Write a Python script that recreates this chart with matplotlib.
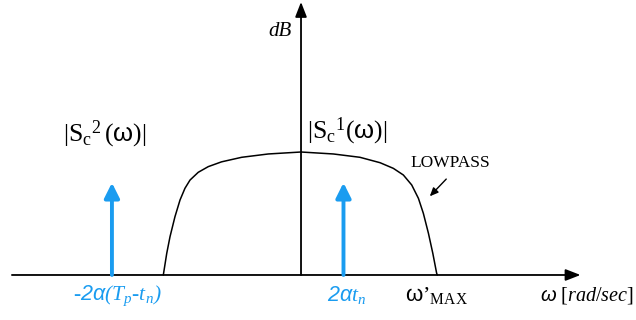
import matplotlib
matplotlib.use("Agg")
import matplotlib.pyplot as plt

plt.rcParams['mathtext.fontset'] = 'custom'
plt.rcParams['mathtext.rm'] = 'Liberation Serif'
plt.rcParams['mathtext.it'] = 'Liberation Serif:italic'
plt.rcParams['mathtext.sf'] = 'Liberation Sans'
# \mathbf is used here for the sans-serif italic symbols
plt.rcParams['mathtext.bf'] = 'Liberation Sans:italic'
plt.rcParams['font.family'] = ['Liberation Serif', 'DejaVu Sans']

# Lowpass magnitude response (normalised: band edge = 1, peak = 1)
curve_w = [-1.005, -0.98, -0.956, -0.92, -0.883, -0.847, -0.81, -0.75,
           -0.677, -0.58, -0.433, -0.239, 0.0,
           0.236, 0.43, 0.577, 0.674, 0.747, 0.808, 0.857, 0.893,
           0.93, 0.962, 0.99, 0.995]
curve_mag = [0.0, 0.176, 0.312, 0.474, 0.61, 0.705, 0.772, 0.835,
             0.881, 0.92, 0.957, 0.984, 1.0,
             0.984, 0.957, 0.913, 0.867, 0.813, 0.732, 0.623, 0.501,
             0.339, 0.176, 0.014, 0.0]

# Spectral impulses of the two chirp components
impulse_w = [-1.38, 0.31]
impulse_h = [0.75, 0.75]
impulse_labels = [r'-$\mathbf{2α}$(T$_p$-t$_n$)',
                  r'$\mathbf{2α}$t$_n$']
label_shift = [0.04, 0.02]

BLUE = '#1a9cf0'

fig = plt.figure(figsize=(6.36, 3.2), dpi=100)
ax = fig.add_axes([0, 0, 1, 1])
ax.set_xlim(-2.197, 2.445)
ax.set_ylim(-0.366, 2.236)
ax.axis('off')

# axes with arrowheads
ax.annotate('', xy=(2.04, 0), xytext=(-2.11, 0),
            arrowprops=dict(arrowstyle='-|>,head_length=0.9,head_width=0.35',
                            color='black', lw=1.3, shrinkA=0, shrinkB=0))
ax.annotate('', xy=(0, 2.22), xytext=(0, 0),
            arrowprops=dict(arrowstyle='-|>,head_length=0.9,head_width=0.35',
                            color='black', lw=1.3, shrinkA=0, shrinkB=0))

# lowpass curve
ax.plot(curve_w, curve_mag, color='black', lw=1.1,
        solid_joinstyle='round', solid_capstyle='round')

# impulses
for w, h, lab, dx in zip(impulse_w, impulse_h, impulse_labels, label_shift):
    ax.annotate('', xy=(w, h), xytext=(w, 0),
                arrowprops=dict(arrowstyle='-|>,head_length=0.9,head_width=0.45',
                                color=BLUE, lw=2.8, shrinkA=0, shrinkB=0))
    ax.text(w + dx, -0.165, lab, color=BLUE, fontsize=15.5, fontstyle='italic',
            ha='center', va='center')

# labels
ax.text(-1.43, 1.14, r'$|\mathrm{S}_{\mathrm{c}}{}^{2}\,(\mathsf{ω})|$',
        fontsize=18.5, ha='center', va='center')
ax.text(0.34, 1.17, r'$|\mathrm{S}_{\mathrm{c}}{}^{1}(\mathsf{ω})|$',
        fontsize=18.5, ha='center', va='center')
ax.text(1.09, 0.91, 'LOWPASS', fontsize=12.5, ha='center', va='center')
ax.annotate('', xy=(0.94, 0.64), xytext=(1.06, 0.78),
            arrowprops=dict(arrowstyle='-|>,head_length=0.5,head_width=0.22',
                            color='black', lw=1.0, shrinkA=0, shrinkB=0))
ax.text(-0.15, 1.98, 'dB', fontsize=15, fontstyle='italic',
        ha='center', va='center')
ax.text(0.99, -0.17, r'$\mathsf{ω}\mathrm{’}_{\mathrm{MAX}}$',
        fontsize=16, ha='center', va='center')
ax.text(2.09, -0.17, r'$\mathbf{ω}$ [$\mathit{rad/sec}$]',
        fontsize=14.5, ha='center', va='center')

fig.savefig('out.png', dpi=100)
